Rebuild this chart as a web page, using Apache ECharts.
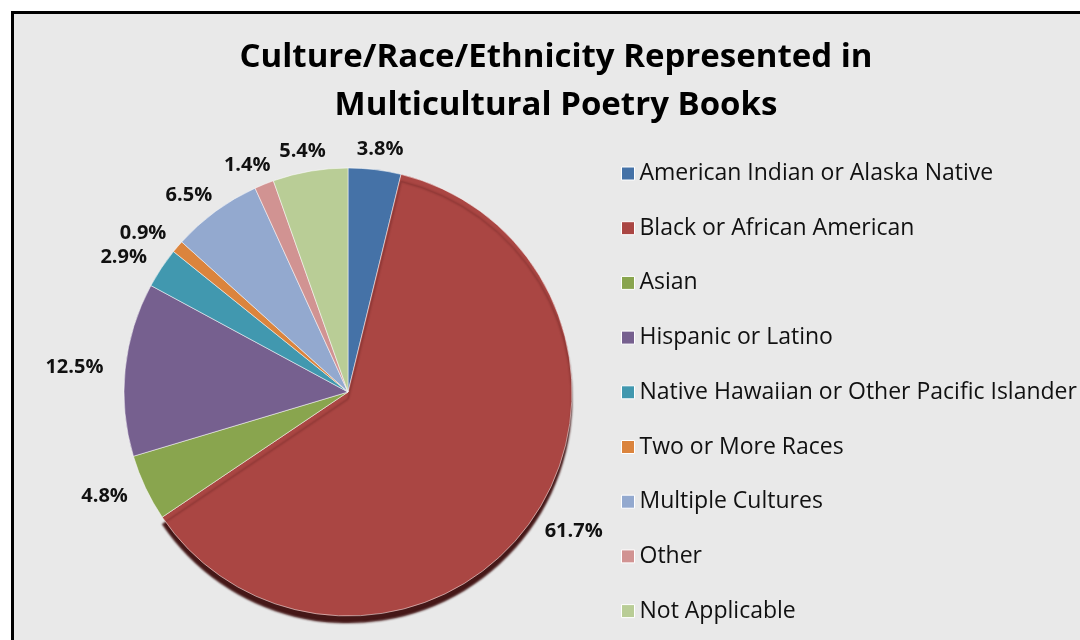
<!DOCTYPE html>
<html>
<head>
<meta charset="utf-8">
<script src="https://cdn.jsdelivr.net/npm/echarts@6/dist/echarts.min.js"></script>
<style>
  html, body { margin: 0; padding: 0; background: #fff; }
  #chart { width: 1080px; height: 640px; }
</style>
</head>
<body>
<div id="chart"></div>
<script>
// groups, clockwise from 12 o'clock
const categories = [
  "American Indian or Alaska Native",
  "Black or African American",
  "Asian",
  "Hispanic or Latino",
  "Native Hawaiian or Other Pacific Islander",
  "Two or More Races",
  "Multiple Cultures",
  "Other",
  "Not Applicable"
];
const percents = [3.8, 61.7, 4.8, 12.5, 2.9, 0.9, 6.5, 1.4, 5.4];
const colors = ["#4572A7", "#AA4643", "#89A54E", "#76608F", "#4198AF", "#DB843D", "#93A9CF", "#D19392", "#B9CD96"];

const pieCenter = [348, 392];
const pieRadius = 224;
const labelGapX = 22;
const labelGapY = 10;

// mid angle of each slice (radians, clockwise from top)
const total = percents.reduce((a, b) => a + b, 0);
let acc = 0;
const midAngles = percents.map(v => {
  const m = (acc + v / 2) / total * Math.PI * 2;
  acc += v;
  return m;
});

const chart = echarts.init(document.getElementById("chart"));
const option = {
  backgroundColor: "#fff",
  animation: false,
  graphic: [{
    type: "rect",
    shape: { x: 12.5, y: 12.5, width: 1200, height: 800 },
    style: { fill: "#e9e9e9", stroke: "#000", lineWidth: 3 },
    z: -10
  }],
  title: {
    text: "Culture/Race/Ethnicity Represented in\nMulticultural Poetry Books",
    left: 551,
    top: 29,
    textAlign: "center",
    textStyle: {
      fontFamily: "Open Sans",
      fontWeight: "bold",
      fontSize: 33,
      lineHeight: 48,
      color: "#000"
    }
  },
  legend: {
    orient: "vertical",
    left: 616,
    top: 156.5,
    itemWidth: 13,
    itemHeight: 13,
    itemGap: 30.7,
    icon: "rect",
    selectedMode: false,
    data: categories,
    itemStyle: { borderColor: "#fff", borderWidth: 1 },
    textStyle: {
      fontFamily: "Open Sans",
      fontSize: 23,
      lineHeight: 24,
      color: "#111"
    }
  },
  series: [{
    type: "pie",
    center: pieCenter,
    radius: pieRadius,
    startAngle: 90,
    clockwise: true,
    avoidLabelOverlap: false,
    color: colors,
    itemStyle: {
      borderColor: "rgba(255,255,255,0.5)",
      borderWidth: 1
    },
    label: {
      show: true,
      position: "outside",
      formatter: p => p.value.toFixed(1) + "%",
      fontFamily: "Open Sans",
      fontWeight: "bold",
      fontSize: 20,
      color: "#111"
    },
    labelLine: { show: false },
    labelLayout: function (params) {
      const a = midAngles[params.dataIndex];
      const ux = Math.sin(a), uy = -Math.cos(a);
      const w = params.labelRect.width, h = params.labelRect.height;
      return {
        x: pieCenter[0] + ux * (pieRadius + labelGapX) + ux * w / 2,
        y: pieCenter[1] + uy * (pieRadius + labelGapY) + uy * h / 2,
        align: "center",
        verticalAlign: "middle"
      };
    },
    emphasis: { disabled: true },
    data: categories.map((c, i) => {
      const item = { name: c, value: percents[i] };
      if (i === 1) {
        // the dark rim under the big slice
        item.itemStyle = {
          shadowColor: "rgba(60,12,12,0.95)",
          shadowBlur: 2,
          shadowOffsetX: 0,
          shadowOffsetY: 7
        };
      }
      return item;
    })
  }]
};
chart.setOption(option);
</script>
</body>
</html>
